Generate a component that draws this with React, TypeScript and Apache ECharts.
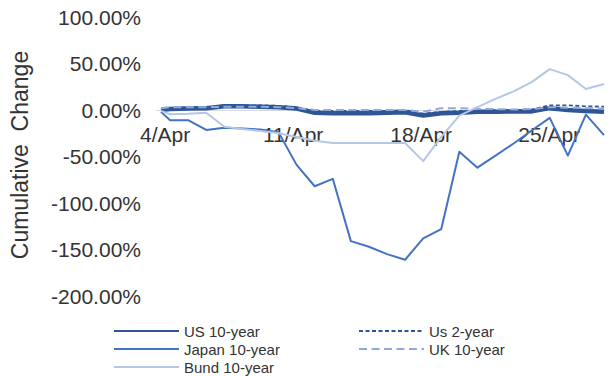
import React, { useEffect, useRef } from "react";
import * as echarts from "echarts";

// Day of April for each observation (first entry is the base reading)
const days = [3.5, 4, 5, 6, 7, 8, 9, 10, 11, 12, 13, 14, 15, 16, 17, 18, 19, 20, 21, 22, 23, 24, 25, 26, 27, 28];

// Cumulative change in yield, percent
const us10 = [0, 1, 1.5, 2, 4, 4, 3.5, 3, 1.5, -3, -3.5, -3.5, -3.5, -3, -2.5, -6, -3.5, -3, -2, -2, -1.5, -1.5, 2, 0, -1, -2];
const us2 = [1, 2, 3, 3, 5, 5, 5, 4.5, 3, -1, -1, -1, -1, -1, 0, -4, -2, -1, -1, 0, 0, 0.5, 5, 5, 4, 3.5];
const japan10 = [-2, -11, -11, -21.5, -19, -20, -21, -24, -59, -82, -74, -141, -147, -155, -161, -138, -128, -45, -62, -49, -36, -22, -8.5, -49, -5, -27];
const uk10 = [2, 3, 3, 3, 3.5, 3.5, 3.5, 3, 2, 0, 0, 0, 0, 0, 0, -2, 2, 2, 1, 1, 0.5, 1, 3, 2.5, 2, 1.5];
const bund10 = [-1, -4.5, -4, -3, -18, -20.5, -22.5, -25, -29, -33, -35.5, -35.5, -35.5, -35.5, -35.5, -55, -29, -6, 3, 12, 20, 30, 44, 37.5, 22.5, 28];

// Date ticks on the horizontal axis
const tickDays = [4, 11, 18, 25];
const tickLabels = ["4/Apr", "11/Apr", "18/Apr", "25/Apr"];

// Value axis range
const yMin = -200;
const yMax = 100;
const yStep = 50;

const FONT = "Liberation Sans, Arial, Helvetica, sans-serif";
const TEXT = "#333333";

const pairs = (vals: number[]) => days.map((d, i) => [d, vals[i]]);

export default function App() {
  const ref = useRef<HTMLDivElement>(null);

  useEffect(() => {
    if (!ref.current) return;
    const chart = echarts.init(ref.current, undefined, { renderer: "svg" });

    const line = (name: string, vals: number[], color: string, width: number, type: any) => ({
      name,
      type: "line",
      xAxisIndex: 0,
      yAxisIndex: 0,
      data: pairs(vals),
      symbol: "none",
      showSymbol: false,
      smooth: false,
      color,
      lineStyle: { color, width, type, cap: "butt", join: "round" },
    });

    const legendText = { color: TEXT, fontSize: 15, lineHeight: 18, fontFamily: FONT };

    // Plot area and the upper half (above zero) which carries the date axis on its lower edge
    const top = 17;
    const plotH = 279;
    const zeroH = (plotH * yMax) / (yMax - yMin);

    chart.setOption({
      animation: false,
      textStyle: { fontFamily: FONT },
      grid: [
        { left: 156, right: 8, top, height: plotH },
        { left: 156, right: 8, top, height: zeroH },
      ],
      xAxis: [
        { type: "value", gridIndex: 0, min: 3.5, max: 28, show: false },
        {
          type: "value",
          gridIndex: 1,
          min: 3.5,
          max: 28,
          axisLine: { show: true, onZero: false, lineStyle: { color: "#d9d9d9", width: 1 } },
          axisTick: { show: false },
          splitLine: { show: false },
          axisLabel: {
            customValues: tickDays,
            formatter: (v: number) => tickLabels[tickDays.indexOf(v)] ?? "",
            color: TEXT,
            fontSize: 21,
            fontFamily: FONT,
            margin: 14,
          },
        },
      ],
      yAxis: [
        {
          type: "value",
          gridIndex: 0,
          min: yMin,
          max: yMax,
          interval: yStep,
          name: "Cumulative  Change",
          nameLocation: "middle",
          nameRotate: 90,
          nameGap: 130,
          nameTextStyle: { color: TEXT, fontSize: 23, fontFamily: FONT, padding: [0, 0, 0, 3] },
          axisLine: { show: false, onZero: false },
          axisTick: { show: false },
          splitLine: { show: false },
          axisLabel: {
            formatter: (v: number) => v.toFixed(2) + "%",
            color: TEXT,
            fontSize: 21,
            fontFamily: FONT,
            margin: 20,
            padding: [4, 0, 0, 0],
          },
        },
        { type: "value", gridIndex: 1, min: 0, max: yMax, show: false },
      ],
      legend: [
        {
          data: ["US 10-year", "Japan 10-year", "Bund 10-year"],
          orient: "vertical",
          left: 113,
          top: 322,
          padding: 0,
          itemWidth: 65,
          itemHeight: 14,
          itemGap: 0,
          itemStyle: { opacity: 0 },
          textStyle: legendText,
        },
        {
          data: ["Us 2-year", "UK 10-year"],
          orient: "vertical",
          left: 358,
          top: 322,
          padding: 0,
          itemWidth: 65,
          itemHeight: 14,
          itemGap: 0,
          itemStyle: { opacity: 0 },
          textStyle: legendText,
        },
      ],
      series: [
        line("US 10-year", us10, "#2F5597", 4.5, "solid"),
        line("Us 2-year", us2, "#2F5597", 1.8, [4, 2.5]),
        line("Japan 10-year", japan10, "#4472C4", 2, "solid"),
        line("UK 10-year", uk10, "#8FAADC", 2, [8, 4.5]),
        line("Bund 10-year", bund10, "#B4C7E7", 2, "solid"),
      ],
    });

    return () => chart.dispose();
  }, []);

  return (
    <div
      ref={ref}
      style={{ position: "absolute", left: 0, top: 0, width: 612, height: 376, background: "#ffffff" }}
    />
  );
}
